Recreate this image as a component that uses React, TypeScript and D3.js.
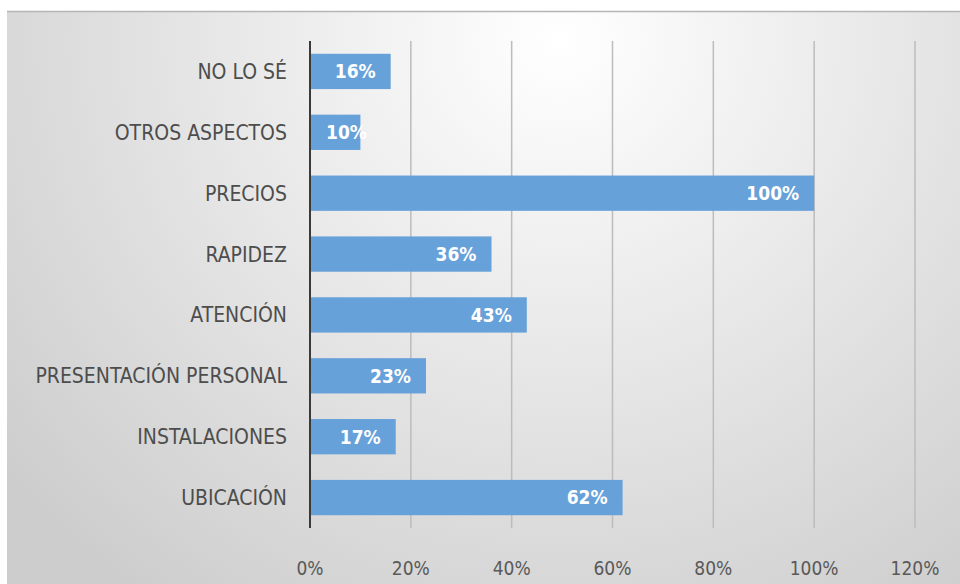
import React from "react";
import * as d3 from "d3";

const categories = ["NO LO SÉ", "OTROS ASPECTOS", "PRECIOS", "RAPIDEZ", "ATENCIÓN", "PRESENTACIÓN PERSONAL", "INSTALACIONES", "UBICACIÓN"];
const values = [16, 10, 100, 36, 43, 23, 17, 62];
const ticks = [0, 20, 40, 60, 80, 100, 120];

const W = 960, H = 584;
const M = { left: 310, right: 45, top: 41, bottom: 56 };

export default function App() {
  const x = d3.scaleLinear().domain([0, 120]).range([M.left, W - M.right]);
  const y = d3.scaleBand<string>().domain(categories).range([M.top, H - M.bottom]).paddingInner(0.42).paddingOuter(0.21);
  const font = "'Liberation Sans Narrow','DejaVu Sans Condensed','Open Sans',sans-serif";
  return (
    <svg width={W} height={H} style={{ position: "absolute", left: 0, top: 0 }}>
      <defs>
        <radialGradient id="bg" cx="0.58" cy="0.05" r="0.75" gradientTransform="translate(0.58 0.05) scale(1 1.6) translate(-0.58 -0.05)">
          <stop offset="0" stopColor="#ffffff" />
          <stop offset="1" stopColor="#cdcdcd" />
        </radialGradient>
      </defs>
      <rect x={0} y={0} width={W} height={H} fill="#ffffff" />
      <rect x={7} y={11} width={W - 7} height={H - 11} fill="url(#bg)" />
      <line x1={7} x2={W} y1={11.5} y2={11.5} stroke="#b5b5b5" strokeWidth={1.5} />
      {ticks.slice(1).map(t => (
        <line key={t} x1={x(t)} x2={x(t)} y1={M.top} y2={H - M.bottom} stroke="#bcbcbc" strokeWidth={1.5} />
      ))}
      {categories.map((c, i) => (
        <rect key={c} x={x(0)} y={y(c)} width={x(values[i]) - x(0)} height={y.bandwidth()} fill="#67a1d9" />
      ))}
      <line x1={x(0)} x2={x(0)} y1={M.top} y2={H - M.bottom} stroke="#3a3a3a" strokeWidth={2} />
      {categories.map((c, i) => (
        <text key={c} x={287} y={(y(c) as number) + y.bandwidth() / 2} dy="0.36em" textAnchor="end"
          fontFamily={font} fontSize={21} fill="#4d4d4d">{c}</text>
      ))}
      {categories.map((c, i) => (
        <text key={c} x={Math.max(x(values[i]) - 15, x(0) + 57)} y={(y(c) as number) + y.bandwidth() / 2} dy="0.36em" textAnchor="end"
          fontFamily={font} fontWeight="bold" fontSize={19} fill="#ffffff">{values[i] + "%"}</text>
      ))}
      {ticks.map(t => (
        <text key={t} x={x(t)} y={568} dy="0.35em" textAnchor="middle" fontFamily={font} fontSize={19} fill="#595959">{t + "%"}</text>
      ))}
    </svg>
  );
}
